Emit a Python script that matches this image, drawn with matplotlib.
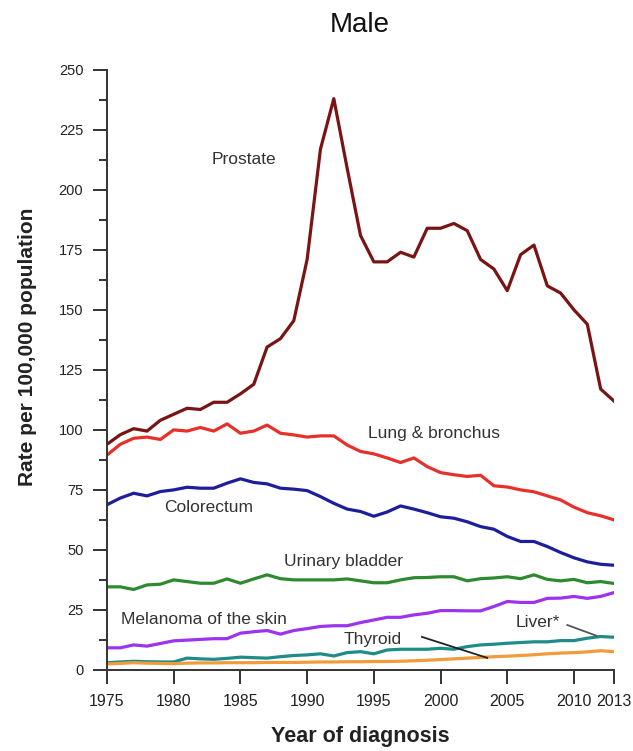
import numpy as np
import matplotlib.pyplot as plt
from matplotlib.ticker import MultipleLocator

plt.rcParams['font.family'] = ['Liberation Sans', 'DejaVu Sans']

# Data (rate per 100,000 population)
years = list(range(1975, 2014))

prostate = [94, 98, 100.5, 99.5, 104, 106.5, 109, 108.5, 111.5, 111.5, 115, 119,
            134.5, 138, 145.5, 171, 217, 238, 209, 181, 170, 170, 174, 172,
            184, 184, 186, 183, 171, 167, 158, 173, 177, 160, 157, 150, 144,
            117, 112]
lung = [89.5, 94, 96.5, 97, 96, 100, 99.5, 101, 99.5, 102.5, 98.6, 99.5,
        102, 98.6, 97.9, 97, 97.5, 97.5, 93.7, 91, 90, 88.3, 86.4, 88.3,
        84.7, 82.2, 81.3, 80.6, 81.1, 76.7, 76.2, 75, 74.2, 72.5, 70.8,
        67.8, 65.5, 64.2, 62.5]
colorectum = [68.8, 71.6, 73.6, 72.5, 74.3, 75, 76.1, 75.7, 75.7, 77.8, 79.6,
              78.1, 77.5, 75.7, 75.3, 74.7, 72.2, 69.4, 67, 66, 64, 65.8,
              68.3, 67, 65.5, 63.8, 63.2, 61.7, 59.7, 58.6, 55.6, 53.5, 53.5,
              51.4, 48.9, 46.7, 45, 44, 43.6]
bladder = [34.6, 34.6, 33.5, 35.4, 35.7, 37.5, 36.8, 36.1, 36.1, 37.9, 36.1,
           37.9, 39.6, 38, 37.5, 37.5, 37.5, 37.5, 37.9, 37.1, 36.3, 36.3,
           37.5, 38.4, 38.5, 38.8, 38.8, 37.1, 38, 38.3, 38.8, 38, 39.6, 37.7,
           37.1, 37.7, 36.3, 36.8, 36]
melanoma = [9.2, 9.2, 10.4, 9.9, 11, 12.1, 12.4, 12.7, 13, 13, 15.3, 15.9,
            16.4, 14.9, 16.4, 17.2, 18.1, 18.4, 18.4, 19.7, 20.8, 21.9, 21.9,
            22.9, 23.6, 24.7, 24.7, 24.6, 24.6, 26.4, 28.5, 28.1, 28.1, 29.8,
            29.9, 30.6, 29.8, 30.6, 32.2]
liver = [3, 3.3, 3.6, 3.4, 3.3, 3.3, 4.9, 4.6, 4.4, 4.8, 5.3, 5.1, 4.9, 5.5,
         6, 6.25, 6.7, 5.8, 7.2, 7.6, 6.7, 8.3, 8.6, 8.6, 8.6, 9, 8.6, 9.7,
         10.4, 10.7, 11.1, 11.4, 11.7, 11.7, 12.2, 12.2, 13.2, 13.9, 13.6]
thyroid = [2.5, 2.7, 3, 2.8, 2.7, 2.6, 2.8, 2.9, 2.9, 3, 3, 3, 3.1, 3.1, 3.1,
           3.2, 3.3, 3.3, 3.4, 3.4, 3.5, 3.5, 3.6, 3.8, 4, 4.3, 4.6, 4.9,
           5.2, 5.5, 5.7, 6, 6.3, 6.7, 7, 7.2, 7.5, 8, 7.6]

series = [
    ('Prostate', prostate, '#7a1414'),
    ('Lung & bronchus', lung, '#e8302a'),
    ('Colorectum', colorectum, '#1e1e9c'),
    ('Urinary bladder', bladder, '#2e8a2e'),
    ('Melanoma of the skin', melanoma, '#9b34ef'),
    ('Liver*', liver, '#1f8c8a'),
    ('Thyroid', thyroid, '#f29b3a'),
]

fig = plt.figure(figsize=(6.33, 7.51), dpi=100)
ax = fig.add_axes([0.169, 0.108, 0.801, 0.799])

for name, vals, col in series:
    ax.plot(years, vals, color=col, lw=2.3, solid_joinstyle='round')

ax.set_xlim(1975, 2013)
ax.set_ylim(0, 250)
ax.set_xticks([1975, 1980, 1985, 1990, 1995, 2000, 2005, 2010, 2013])
ax.yaxis.set_major_locator(MultipleLocator(25))
ax.yaxis.set_minor_locator(MultipleLocator(12.5))
ax.tick_params(axis='both', color='#333333', labelcolor='#222222', width=1.4)
ax.tick_params(axis='y', which='major', length=10, pad=7, labelsize=10.5)
ax.tick_params(axis='y', which='minor', length=5.5, width=1.4, color='#333333')
ax.tick_params(axis='x', length=10, pad=7, labelsize=11.5)
for s in ['top', 'right']:
    ax.spines[s].set_visible(False)
for s in ['left', 'bottom']:
    ax.spines[s].set_linewidth(1.4)
    ax.spines[s].set_color('#333333')

# Line labels
txt = dict(fontsize=12.5, color='#333333', ha='center', va='center')
ax.text(1985.3, 212.5, 'Prostate', **txt)
ax.text(1999.5, 98.3, 'Lung & bronchus', **txt)
ax.text(1982.6, 67.5, 'Colorectum', **txt)
ax.text(1992.7, 45.3, 'Urinary bladder', **txt)
ax.text(1982.3, 20.8, 'Melanoma of the skin', **txt)
ax.text(1994.9, 12.5, 'Thyroid', **txt)
ax.text(2007.3, 19.6, 'Liver*', **txt)
ax.plot([1998.6, 2003.5], [13.75, 5.0], color='#222222', lw=1.3)
ax.plot([2009.5, 2011.7], [18.7, 14.2], color='#555555', lw=1.3)

fig.text(0.569, 0.967, 'Male', fontsize=20, ha='center', va='center', color='#111111')
fig.text(0.569, 0.019, 'Year of diagnosis', fontsize=15.5, fontweight='bold',
         ha='center', va='center', color='#222222')
fig.text(0.043, 0.538, 'Rate per 100,000 population', fontsize=15, fontweight='bold',
         ha='center', va='center', rotation=90, color='#222222')

fig.savefig('out.png', dpi=100)
